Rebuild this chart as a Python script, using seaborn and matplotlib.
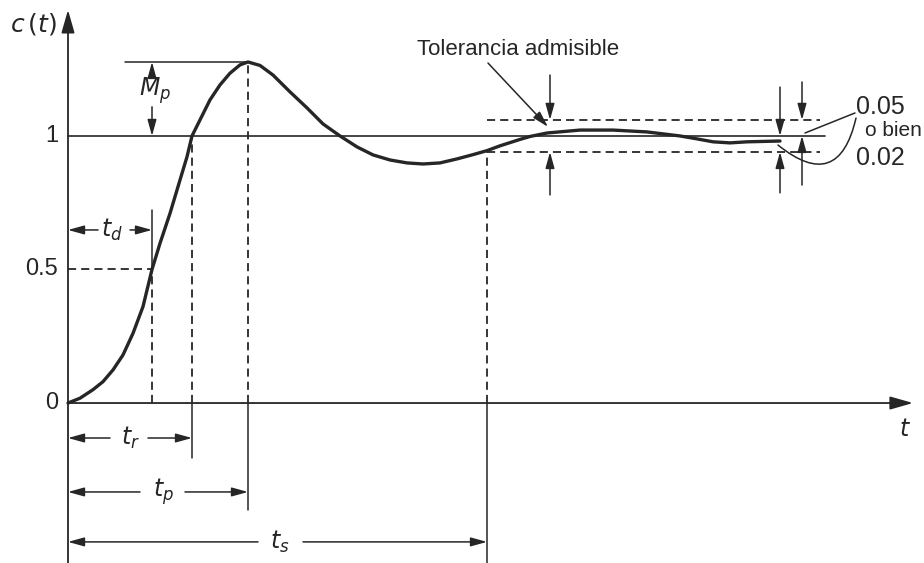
import matplotlib
matplotlib.use("Agg")
import matplotlib.pyplot as plt
import pandas as pd
import seaborn as sns

# ---- data (time in arbitrary units, c(t) normalised) ----
t_vals = [0.00, 0.12, 0.25, 0.35, 0.45, 0.55, 0.65, 0.75, 0.84, 0.92, 1.02, 1.12,
          1.19, 1.24, 1.32, 1.42, 1.52, 1.62, 1.72, 1.80, 1.92, 2.05, 2.22, 2.39,
          2.55, 2.72, 2.89, 3.05, 3.22, 3.39, 3.55, 3.72, 3.89, 4.05, 4.19, 4.32,
          4.52, 4.62, 4.79, 5.12, 5.45, 5.79, 6.12, 6.29, 6.45, 6.62, 6.79, 7.12]
c_vals = [0.000, 0.018, 0.050, 0.080, 0.124, 0.180, 0.261, 0.361, 0.500, 0.598, 0.710, 0.835,
          0.922, 1.000, 1.060, 1.135, 1.191, 1.235, 1.266, 1.277, 1.264, 1.228, 1.165, 1.105,
          1.045, 1.000, 0.959, 0.929, 0.910, 0.899, 0.895, 0.899, 0.914, 0.930, 0.945, 0.963,
          0.987, 0.998, 1.011, 1.022, 1.022, 1.015, 1.000, 0.989, 0.978, 0.974, 0.978, 0.981]

t_d, t_r, t_p, t_s = 0.84, 1.24, 1.80, 4.19
c_final = 1.0
c_half = 0.5
c_peak = 1.277
tol_hi, tol_lo = 1.06, 0.94
y_ticks = [0, 0.5, 1]
y_tick_labels = ["0", "0.5", "1"]
time_labels = [r"$t_d$", r"$t_r$", r"$t_p$", r"$t_s$"]

df = pd.DataFrame({"t": t_vals, "c": c_vals})

sns.set_theme(style="white")
plt.rcParams["font.family"] = ["Liberation Sans", "DejaVu Sans"]
plt.rcParams["mathtext.fontset"] = "dejavusans"

INK = "#262626"

fig = plt.figure(figsize=(9.24, 5.63), dpi=100)
ax = fig.add_axes([0, 0, 1, 1])
ax.set_xlim(-0.68, 8.56)
ax.set_ylim(-0.599, 1.509)
ax.axis("off")

big = dict(arrowstyle="-|>,head_length=0.7,head_width=0.2", color=INK, lw=1.3,
           mutation_scale=20, shrinkA=0, shrinkB=0)
small = dict(arrowstyle="-|>,head_length=0.65,head_width=0.18", color=INK, lw=1.1,
             mutation_scale=15, shrinkA=0, shrinkB=0)
plain = dict(arrowstyle="-", color=INK, lw=1.1, shrinkA=0, shrinkB=0)
DASH = (0, (4.5, 2.8))

# axes with arrows
ax.annotate("", xy=(8.45, 0), xytext=(0, 0), arrowprops=big)
ax.annotate("", xy=(0, 1.472), xytext=(0, -0.62), arrowprops=big)
ax.text(-0.35, 1.42, r"$c\,(t)$", fontsize=18, color=INK, ha="center", va="center")
ax.text(8.37, -0.10, r"$t$", fontsize=17, color=INK, ha="center", va="center")
for v, lab in zip(y_ticks, y_tick_labels):
    ax.text(-0.10, v, lab, fontsize=17, color=INK, ha="right", va="center")

# reference line at 1 and peak line
ax.plot([0, 7.57], [c_final, c_final], color=INK, lw=1.2)
ax.plot([0.57, t_p], [c_peak, c_peak], color=INK, lw=1.1)

# response curve
sns.lineplot(data=df, x="t", y="c", ax=ax, color=INK, lw=2.4,
             estimator=None, sort=False, legend=False)

# tolerance band
ax.plot([t_s, 7.52], [tol_hi, tol_hi], color=INK, lw=1.3, ls=DASH)
ax.plot([t_s, 7.52], [tol_lo, tol_lo], color=INK, lw=1.3, ls=DASH)

# t_d construction
ax.plot([0, t_d], [c_half, c_half], color=INK, lw=1.3, ls=DASH)
ax.plot([t_d, t_d], [0, c_half], color=INK, lw=1.3, ls=DASH)
ax.plot([t_d, t_d], [c_half, 0.723], color=INK, lw=1.1)
# t_r, t_p, t_s verticals
ax.plot([t_r, t_r], [0, c_final], color=INK, lw=1.3, ls=DASH)
ax.plot([t_r, t_r], [0, -0.206], color=INK, lw=1.1)
ax.plot([t_p, t_p], [0, c_peak], color=INK, lw=1.3, ls=DASH)
ax.plot([t_p, t_p], [0, -0.40], color=INK, lw=1.1)
ax.plot([t_s, t_s], [0, tol_lo], color=INK, lw=1.3, ls=DASH)
ax.plot([t_s, t_s], [0, -0.62], color=INK, lw=1.1)

# dimension arrows for the times
dims = [(t_d, 0.648, 0.44, 0.30, 0.62),
        (t_r, -0.131, 0.62, 0.42, 0.80),
        (t_p, -0.333, 0.95, 0.72, 1.17),
        (t_s, -0.52, 2.12, 1.90, 2.35)]
for (tv, yv, tx, l_end, r_start), lab in zip(dims, time_labels):
    ax.annotate("", xy=(0, yv), xytext=(l_end, yv), arrowprops=small)
    ax.annotate("", xy=(tv, yv), xytext=(r_start, yv), arrowprops=small)
    ax.text(tx, yv, lab, fontsize=17, color=INK, ha="center", va="center")

# M_p
ax.annotate("", xy=(0.84, c_peak), xytext=(0.84, 1.217), arrowprops=small)
ax.annotate("", xy=(0.84, c_final), xytext=(0.84, 1.109), arrowprops=small)
ax.text(0.87, 1.168, r"$M_p$", fontsize=17, color=INK, ha="center", va="center")

# tolerance annotations
ax.text(4.50, 1.322, "Tolerancia admisible", fontsize=16, color=INK,
        ha="center", va="center")
ax.annotate("", xy=(4.80, 1.034), xytext=(4.20, 1.273), arrowprops=small)
ax.annotate("", xy=(4.82, tol_hi), xytext=(4.82, 1.228), arrowprops=small)
ax.annotate("", xy=(4.82, tol_lo), xytext=(4.82, 0.779), arrowprops=small)
ax.annotate("", xy=(7.12, c_final), xytext=(7.12, 1.183), arrowprops=small)
ax.annotate("", xy=(7.12, tol_lo), xytext=(7.12, 0.787), arrowprops=small)
ax.annotate("", xy=(7.34, tol_hi), xytext=(7.34, 1.202), arrowprops=small)
ax.annotate("", xy=(7.34, c_final), xytext=(7.34, 0.816), arrowprops=small)

ax.text(7.88, 1.109, "0.05", fontsize=18, color=INK, ha="left", va="center")
ax.text(7.97, 1.019, "o bien", fontsize=15, color=INK, ha="left", va="center")
ax.text(7.88, 0.918, "0.02", fontsize=18, color=INK, ha="left", va="center")
ax.annotate("", xy=(7.87, 1.086), xytext=(7.37, 1.011), arrowprops=plain)
ax.annotate("", xy=(7.88, 1.067), xytext=(7.10, 0.966),
            arrowprops=dict(plain, connectionstyle="arc3,rad=0.8"))

fig.savefig("out.png", dpi=100, facecolor="white")
